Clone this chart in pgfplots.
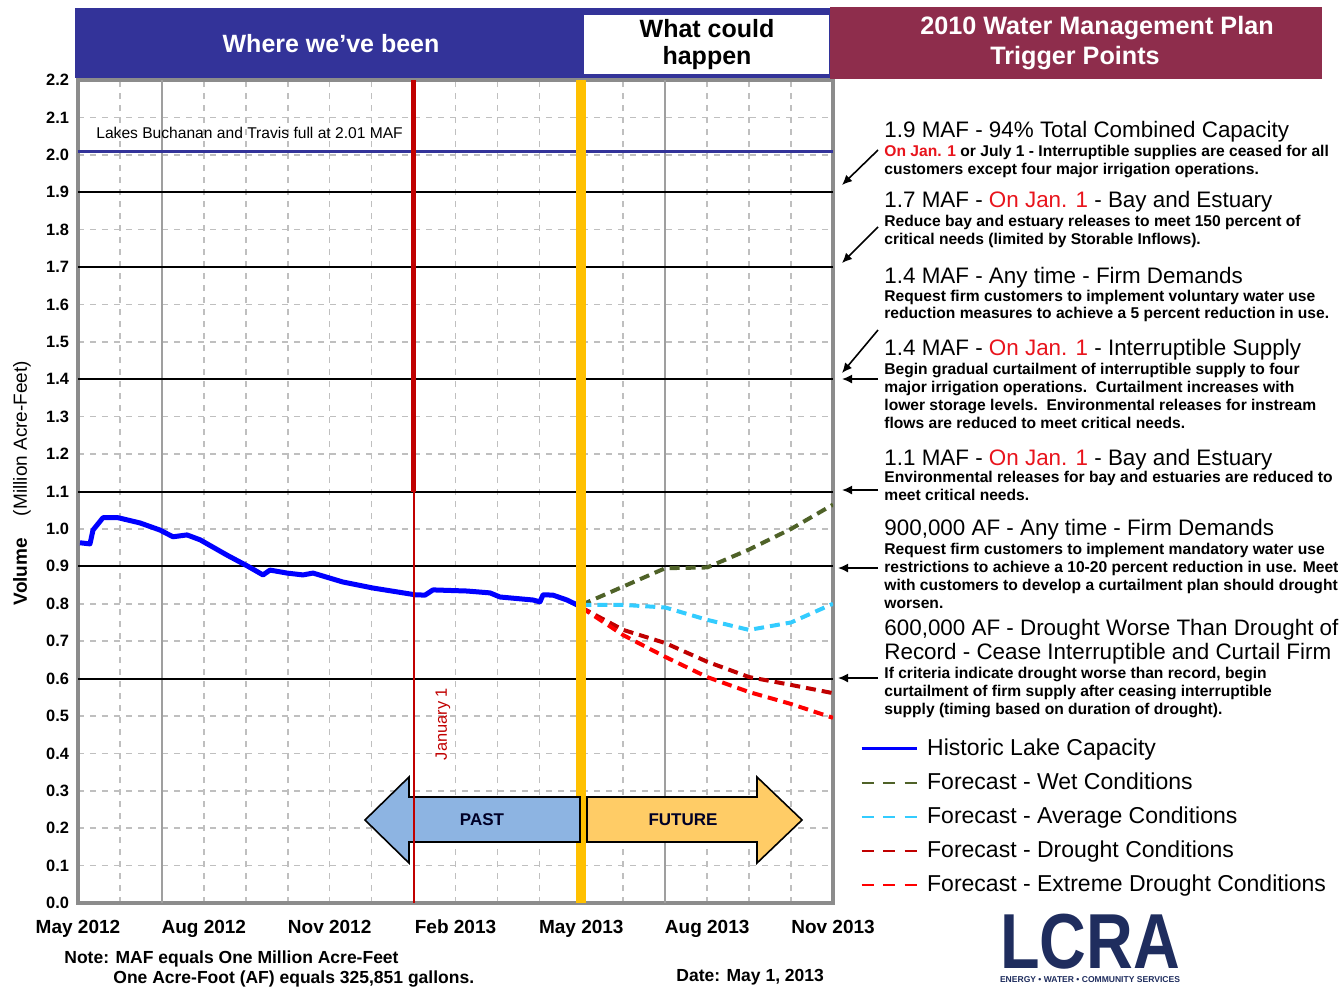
\documentclass[border=0pt]{standalone}
\usepackage{fontspec}
\setmainfont{Liberation Sans}
\usepackage{graphicx}
\usepackage{pgfplots}
\pgfplotsset{compat=1.18}
\usetikzlibrary{arrows.meta}
\definecolor{hdrblue}{HTML}{333399}
\definecolor{hdrmaroon}{HTML}{8E2D4C}
\definecolor{histc}{HTML}{0000FF}
\definecolor{wetc}{HTML}{4F6228}
\definecolor{avgc}{HTML}{33CCFF}
\definecolor{drtc}{HTML}{C00000}
\definecolor{xdrtc}{HTML}{FF0000}
\definecolor{ylwc}{HTML}{FFC000}
\definecolor{pastc}{HTML}{8DB4E2}
\definecolor{futc}{HTML}{FFCC66}
\definecolor{logoc}{HTML}{1F2D5E}
\definecolor{gridg}{HTML}{BFBFBF}
\definecolor{txtred}{HTML}{E8141C}
\definecolor{framec}{HTML}{8C8C8C}
\newcommand{\fs}[1]{\fontsize{#1}{#1}\selectfont}
\begin{document}
\begin{tikzpicture}
\path[use as bounding box] (0,0) rectangle (671.5pt,-493.5pt);
\begin{axis}[
  at={(39pt,-451.5pt)}, anchor=south west,
  scale only axis, width=377.5pt, height=411.5pt,
  xmin=0, xmax=18, ymin=0, ymax=2.2,
  xtick={0,3,6,9,12,15,18},
  xticklabels={May 2012,Aug 2012,Nov 2012,Feb 2013,May 2013,Aug 2013,Nov 2013},
  minor xtick={1,2,4,5,7,8,10,11,13,14,16,17},
  ytick={0,0.1,0.2,0.3,0.4,0.5,0.6,0.7,0.8,0.9,1.0,1.1,1.2,1.3,1.4,1.5,1.6,1.7,1.8,1.9,2.0,2.1,2.2},
  grid=both,
  major grid style={gridg, dash pattern=on 3pt off 3pt, line width=0.8pt},
  minor grid style={gridg, dash pattern=on 3pt off 3pt, line width=0.8pt},
  extra x ticks={2,14}, extra x tick labels={},
  extra x tick style={grid=major, major grid style={solid, color=gray!75, line width=1pt}},
  extra y ticks={0.6,0.9,1.1,1.4,1.7,1.9}, extra y tick labels={},
  extra y tick style={grid=major, major grid style={solid, color=black, line width=1pt}},
  major tick length=0pt, minor tick length=0pt,
  axis line style={framec, line width=2pt},
  /pgf/number format/assume math mode=true,
  yticklabel style={font=\bfseries\fs{8.2}, /pgf/number format/fixed, /pgf/number format/precision=1, /pgf/number format/fixed zerofill, xshift=-1pt},
  xticklabel style={font=\bfseries\fs{9.5}, yshift=-5pt},
  legend style={at={(1.036,0.205)}, anchor=north west, draw=none, fill=none, font=\fs{11.5}, row sep=3.2pt, inner sep=0pt},
  legend cell align=left,
  legend image code/.code={\draw[#1, line width=1.1pt] (0pt,0pt) -- (27.5pt,0pt); \path (29.5pt,0pt);},
]
% Historic lake capacity
\addplot[histc, line width=2.5pt, line join=round] coordinates {
(0.048,0.963)(0.286,0.960)(0.358,0.997)(0.596,1.030)(0.954,1.030)(1.478,1.016)
(1.955,0.997)(2.265,0.979)(2.599,0.984)(2.909,0.971)(3.552,0.930)(4.053,0.900)
(4.411,0.877)(4.578,0.890)(4.983,0.882)(5.364,0.877)(5.603,0.882)(6.318,0.858)
(7.033,0.842)(8.035,0.824)(8.273,0.823)(8.464,0.837)(9.274,0.834)(9.823,0.829)
(10.061,0.818)(10.848,0.810)(11.015,0.805)(11.086,0.824)(11.325,0.823)(11.658,0.810)
(11.897,0.797)(12.0,0.795)};
\addlegendentry{Historic Lake Capacity}
\addplot[wetc, line width=2pt, dash pattern=on 5pt off 3pt, legend image post style={dash pattern=on 6pt off 4.75pt}] coordinates {
(12,0.797)(14,0.895)(15,0.897)(16,0.945)(17,1.000)(18,1.065)};
\addlegendentry{Forecast - Wet Conditions}
\addplot[avgc, line width=2pt, dash pattern=on 5pt off 3pt, legend image post style={dash pattern=on 6pt off 4.75pt}] coordinates {
(12,0.797)(13,0.797)(14,0.790)(15,0.757)(16,0.730)(17,0.750)(18,0.800)};
\addlegendentry{Forecast - Average Conditions}
\addplot[drtc, line width=2pt, dash pattern=on 5pt off 3pt, legend image post style={dash pattern=on 6pt off 4.75pt}] coordinates {
(12,0.790)(13,0.730)(14,0.695)(15,0.645)(16,0.604)(17,0.583)(18,0.561)};
\addlegendentry{Forecast - Drought Conditions}
\addplot[xdrtc, line width=2pt, dash pattern=on 5pt off 3pt, legend image post style={dash pattern=on 6pt off 4.75pt}] coordinates {
(12,0.790)(13,0.716)(14,0.658)(15,0.604)(16,0.564)(17,0.532)(18,0.495)};
\addlegendentry{Forecast - Extreme Drought Conditions}
% full capacity line
\addplot[hdrblue, line width=1.5pt, forget plot] coordinates {(0,2.01)(18,2.01)};
% May 1 2013 line
\addplot[ylwc, line width=5pt, forget plot] coordinates {(12,0)(12,2.2)};
% PAST / FUTURE arrows
\draw[black, line width=0.8pt, fill=pastc] (axis cs:6.842,0.2219) -- (axis cs:7.891,0.3368) -- (axis cs:7.891,0.2834) -- (axis cs:11.968,0.2834) -- (axis cs:11.968,0.1631) -- (axis cs:7.891,0.1631) -- (axis cs:7.891,0.1069) -- cycle;
\draw[black, line width=0.8pt, fill=futc] (axis cs:12.135,0.2834) -- (axis cs:16.188,0.2834) -- (axis cs:16.188,0.3368) -- (axis cs:17.261,0.2219) -- (axis cs:16.188,0.1069) -- (axis cs:16.188,0.1631) -- (axis cs:12.135,0.1631) -- cycle;
\node[font=\bfseries\fs{8.5}, text=black!85!blue] at (axis cs:9.632,0.2219) {PAST};
\node[font=\bfseries\fs{8.5}, text=black!85!blue] at (axis cs:14.424,0.2219) {FUTURE};
% January 1 line
\addplot[drtc, line width=2.5pt, forget plot] coordinates {(8,1.1)(8,2.2)};
\addplot[drtc, line width=1pt, forget plot] coordinates {(8,0)(8,1.1)};
\node[rotate=90, font=\fs{8.2}, text=drtc] at (axis cs:8.702,0.4785) {January 1};
\node[anchor=west, inner sep=0pt, font=\fs{7.8}] at (axis cs:0.429,2.058) {Lakes Buchanan and Travis full at 2.01 MAF};
\end{axis}
\begin{scope}[x=0.5pt, y=-0.5pt]
% headers
\fill[hdrblue] (75,8) rectangle (830,78);
\fill[white] (584,15) rectangle (829,74);
\fill[hdrmaroon] (830,7) rectangle (1322,79);
\node[font=\bfseries\fs{12.5}, text=white] at (331,44) {Where we\symbol{39}ve been};
\node[font=\bfseries\fs{12.5}, text=black, align=center] at (707,29) {What could};
\node[font=\bfseries\fs{12.5}, text=black, align=center] at (707,58) {happen};
\node[font=\bfseries\fs{12.6}, text=white] at (1097,28) {2010 Water Management Plan};
\node[font=\bfseries\fs{12.6}, text=white] at (1075,58) {Trigger Points};
% y label
\node[rotate=90, font=\fs{9.5}] at (22,483) {\textbf{Volume}\hspace{11pt}(Million Acre-Feet)};
% trigger text
\begin{scope}[every node/.style={anchor=base west, inner sep=0pt}]
\node[font=\fs{11.2}] at (884,137) {1.9 MAF - 94\% Total Combined Capacity};
\node[font=\bfseries\fs{7.8}] at (884,156.5) {{\color{txtred}On Jan. 1} or July 1 - Interruptible supplies are ceased for all};
\node[font=\bfseries\fs{7.8}] at (884,174.5) {customers except four major irrigation operations.};
\node[font=\fs{11.2}] at (884,207) {1.7 MAF - {\color{txtred}On Jan. 1} - Bay and Estuary};
\node[font=\bfseries\fs{7.8}] at (884,226.5) {Reduce bay and estuary releases to meet 150 percent of};
\node[font=\bfseries\fs{7.8}] at (884,244.5) {critical needs (limited by Storable Inflows).};
\node[font=\fs{11.2}] at (884,283) {1.4 MAF - Any time - Firm Demands};
\node[font=\bfseries\fs{7.8}] at (884,301.5) {Request firm customers to implement voluntary water use};
\node[font=\bfseries\fs{7.8}] at (884,318.5) {reduction measures to achieve a 5 percent reduction in use.};
\node[font=\fs{11.2}] at (884,355) {1.4 MAF - {\color{txtred}On Jan. 1} - Interruptible Supply};
\node[font=\bfseries\fs{7.8}] at (884,374.5) {Begin gradual curtailment of interruptible supply to four};
\node[font=\bfseries\fs{7.8}] at (884,392.5) {major irrigation operations.\ \ Curtailment increases with};
\node[font=\bfseries\fs{7.8}] at (884,410.5) {lower storage levels.\ \ Environmental releases for instream};
\node[font=\bfseries\fs{7.8}] at (884,428.5) {flows are reduced to meet critical needs.};
\node[font=\fs{11.2}] at (884,465) {1.1 MAF - {\color{txtred}On Jan. 1} - Bay and Estuary};
\node[font=\bfseries\fs{7.8}] at (884,482.5) {Environmental releases for bay and estuaries are reduced to};
\node[font=\bfseries\fs{7.8}] at (884,500.5) {meet critical needs.};
\node[font=\fs{11.2}] at (884,535) {900,000 AF - Any time - Firm Demands};
\node[font=\bfseries\fs{7.8}] at (884,554.5) {Request firm customers to implement mandatory water use};
\node[font=\bfseries\fs{7.8}] at (884,572.5) {restrictions to achieve a 10-20 percent reduction in use. Meet};
\node[font=\bfseries\fs{7.8}] at (884,590.5) {with customers to develop a curtailment plan should drought};
\node[font=\bfseries\fs{7.8}] at (884,608.5) {worsen.};
\node[font=\fs{11.2}] at (884,635) {600,000 AF - Drought Worse Than Drought of};
\node[font=\fs{11.2}] at (884,659) {Record - Cease Interruptible and Curtail Firm};
\node[font=\bfseries\fs{7.8}] at (884,678.5) {If criteria indicate drought worse than record, begin};
\node[font=\bfseries\fs{7.8}] at (884,696.5) {curtailment of firm supply after ceasing interruptible};
\node[font=\bfseries\fs{7.8}] at (884,714.5) {supply (timing based on duration of drought).};
% notes
\node[font=\bfseries\fs{8.75}] at (64,963) {Note: MAF equals One Million Acre-Feet};
\node[font=\bfseries\fs{8.75}] at (113,983) {One Acre-Foot (AF) equals 325,851 gallons.};
\node[font=\bfseries\fs{8.75}] at (676,981) {Date: May 1, 2013};
\end{scope}
% arrows
\begin{scope}[line width=0.8pt, -{Latex[length=5pt,width=4.5pt]}]
\draw (878,150) -- (842,185);
\draw (878,227) -- (842,263);
\draw (878,330) -- (842,373);
\draw (878,379) -- (842,379);
\draw (878,490) -- (842,490);
\draw (878,568) -- (838,568);
\draw (878,678) -- (838,678);
\end{scope}
% logo
\node[anchor=base, inner sep=0pt, text depth=0pt, font=\bfseries\fs{39}, text=logoc] at (1090,968) {\scalebox{0.83}[1]{LCRA}};
\node[anchor=base, inner sep=0pt, text=logoc] at (1090,982) {\resizebox{90pt}{!}{\bfseries ENERGY • WATER • COMMUNITY SERVICES}};
\end{scope}
\end{tikzpicture}
\end{document}
